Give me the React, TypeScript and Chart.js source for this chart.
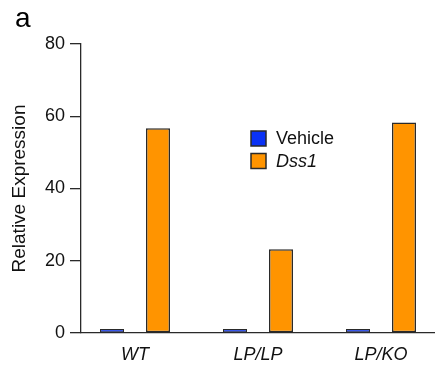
import React, { useEffect, useRef } from "react";
import { Chart, registerables } from "chart.js";

Chart.register(...registerables);

const categories = ["WT", "LP/LP", "LP/KO"];
const vehicleValues = [1.1, 1.1, 1.1];
const dss1Values = [56.7, 23.2, 58.3];
const yTicks = [0, 20, 40, 60, 80];
const seriesNames = ["Vehicle", "Dss1"];

const FONT = "'Liberation Sans', Arial, Helvetica, sans-serif";
const AXIS_COLOR = "#2a2a2a";
const BLUE = "#0a32f5";
const ORANGE = "#ff9400";

// Legend drawn inside the plot area, with the gene name in italics
const insideLegend = {
  id: "insideLegend",
  afterDraw(chart: any) {
    const ctx = chart.ctx;
    const x0 = 251;
    const y0 = 131;
    const box = 15;
    const gap = 22.5;
    const italic = [false, true];
    chart.data.datasets.forEach((ds: any, i: number) => {
      const y = y0 + i * gap;
      ctx.save();
      ctx.fillStyle = ds.backgroundColor;
      ctx.fillRect(x0, y, box, box);
      ctx.strokeStyle = AXIS_COLOR;
      ctx.lineWidth = 1.5;
      ctx.strokeRect(x0, y, box, box);
      ctx.fillStyle = "#111";
      ctx.font = `${italic[i] ? "italic " : ""}18px ${FONT}`;
      ctx.textBaseline = "middle";
      ctx.fillText(ds.label, x0 + 25, y + box / 2 + 0.5);
      ctx.restore();
    });
  },
};

// Panel letter in the top-left corner
const panelLetter = {
  id: "panelLetter",
  afterDraw(chart: any) {
    const ctx = chart.ctx;
    ctx.save();
    ctx.fillStyle = "#000";
    ctx.font = `28px ${FONT}`;
    ctx.textBaseline = "alphabetic";
    ctx.fillText("a", 15, 27);
    ctx.restore();
  },
};

export default function App() {
  const canvasRef = useRef<HTMLCanvasElement | null>(null);

  useEffect(() => {
    document.body.style.margin = "0";
    const canvas = canvasRef.current;
    if (!canvas) return;
    const chart = new Chart(canvas, {
      type: "bar",
      data: {
        datasets: [
          {
            label: seriesNames[0],
            data: vehicleValues.map((v, i) => ({ x: i, y: v })),
            backgroundColor: BLUE,
            borderColor: AXIS_COLOR,
            borderWidth: 1.2,
            borderSkipped: false,
          },
          {
            label: seriesNames[1],
            data: dss1Values.map((v, i) => ({ x: i, y: v })),
            backgroundColor: ORANGE,
            borderColor: AXIS_COLOR,
            borderWidth: 1.5,
            borderSkipped: false,
          },
        ],
      },
      options: {
        animation: false,
        responsive: false,
        devicePixelRatio: 1,
        categoryPercentage: 0.748,
        barPercentage: 0.522,
        layout: { padding: { top: 44, right: 0, bottom: 0, left: 0 } },
        plugins: {
          legend: { display: false },
          tooltip: { enabled: false },
        },
        scales: {
          x: {
            type: "linear",
            offset: false,
            min: -0.439,
            max: 2.439,
            afterBuildTicks: (axis: any) => {
              axis.ticks = categories.map((_, i) => ({ value: i }));
            },
            afterFit: (axis: any) => {
              axis.height = 38;
            },
            grid: { display: false, offset: false },
            border: { display: true, color: AXIS_COLOR, width: 1.3 },
            ticks: {
              padding: 3,
              color: "#111",
              font: { family: FONT, size: 18, style: "italic" },
              maxRotation: 0,
              autoSkip: false,
              callback: (v: any) => categories[v] ?? "",
            },
          },
          y: {
            min: 0,
            max: 80,
            afterBuildTicks: (axis: any) => {
              axis.ticks = yTicks.map((v) => ({ value: v }));
            },
            afterFit: (axis: any) => {
              axis.width = 81;
            },
            grid: {
              drawOnChartArea: false,
              drawTicks: true,
              tickLength: 11,
              color: AXIS_COLOR,
              lineWidth: 1.3,
            },
            border: { display: true, color: AXIS_COLOR, width: 1.3 },
            ticks: {
              padding: 5,
              color: "#111",
              font: { family: FONT, size: 18 },
            },
            title: {
              display: true,
              text: "Relative Expression",
              color: "#111",
              font: { family: FONT, size: 19 },
              padding: { top: 8, bottom: 0 },
            },
          },
        },
      },
      plugins: [insideLegend, panelLetter],
    });
    return () => chart.destroy();
  }, []);

  return (
    <div style={{ width: 435, height: 371 }}>
      <canvas ref={canvasRef} width={435} height={371} style={{ display: "block" }} />
    </div>
  );
}
